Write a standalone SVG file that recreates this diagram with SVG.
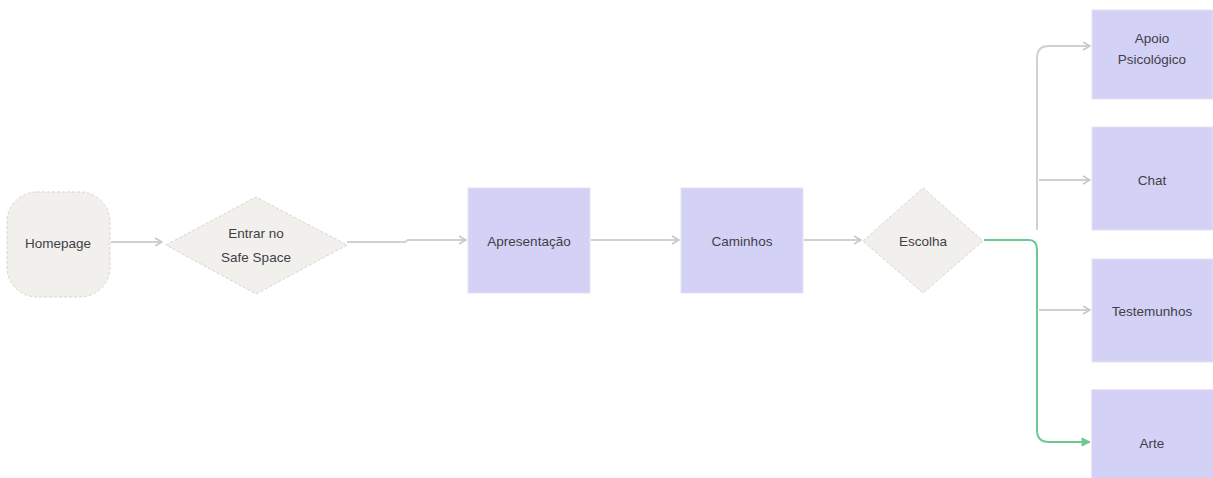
<svg xmlns="http://www.w3.org/2000/svg" width="1213" height="478" viewBox="0 0 1213 478">
<style>
.grey{fill:#f1f0ec;stroke:#d6d5d0;stroke-width:1;stroke-dasharray:3 2}
.box{fill:#d3d1f5;stroke:#e4e3f0;stroke-width:1}
.t{font-family:"Liberation Sans",Arial,sans-serif;font-size:13.5px;fill:#3f3f48;text-anchor:middle;dominant-baseline:central}
.c{fill:none;stroke:#d0d0d0;stroke-width:2}
.g{fill:none;stroke:#6cc992;stroke-width:2}
</style>
<defs>
<marker id="ah" viewBox="0 0 10 10" refX="9" refY="5" markerWidth="10" markerHeight="10" markerUnits="userSpaceOnUse" orient="auto"><path d="M2,1 L9,5 L2,9" fill="none" stroke="#c8c8c8" stroke-width="1.5"/></marker>
<marker id="ahg" viewBox="0 0 10 10" refX="9" refY="5" markerWidth="10" markerHeight="10" markerUnits="userSpaceOnUse" orient="auto"><path d="M1,1 L9,5 L1,9 Z" fill="#6cc992" stroke="#6cc992" stroke-width="1"/></marker>
</defs>
<rect width="1213" height="478" fill="#ffffff"/>
<g id="connectors">
<path class="c" d="M111,242 L162,242" marker-end="url(#ah)"/>
<path class="c" d="M347,242 L405,242 L408,240 L466,240" marker-end="url(#ah)"/>
<path class="c" d="M591,240 L679,240" marker-end="url(#ah)"/>
<path class="c" d="M804,240 L861,240" marker-end="url(#ah)"/>
<path class="c" d="M1037,230 L1037,58 Q1037,46 1049,46 L1090,46" marker-end="url(#ah)"/>
<path class="c" d="M1039,180 L1090,180" marker-end="url(#ah)"/>
<path class="c" d="M1039,310 L1090,310" marker-end="url(#ah)"/>
<path class="g" d="M984,240 L1029,240 Q1037,240 1037,250 L1037,430 Q1037,442 1049,442 L1090,442" marker-end="url(#ahg)"/>
</g>
<g id="homepage">
<rect class="grey" x="7" y="192" width="103" height="105" rx="30"/>
<text class="t" x="58" y="243">Homepage</text>
</g>
<g id="entrar">
<polygon class="grey" points="166,245 256,197 347,245 256,294"/>
<text class="t" x="256" y="233">Entrar no</text>
<text class="t" x="256" y="257">Safe Space</text>
</g>
<g id="apresentacao">
<rect class="box" x="468" y="188" width="122" height="105"/>
<text class="t" x="529" y="241">Apresentação</text>
</g>
<g id="caminhos">
<rect class="box" x="681" y="188" width="122" height="105"/>
<text class="t" x="742" y="241">Caminhos</text>
</g>
<g id="escolha">
<polygon class="grey" points="863,241 923,188 983,241 923,293"/>
<text class="t" x="923" y="241">Escolha</text>
</g>
<g id="apoio">
<rect class="box" x="1092" y="10" width="121" height="89"/>
<text class="t" x="1152" y="38">Apoio</text>
<text class="t" x="1152" y="59">Psicológico</text>
</g>
<g id="chat">
<rect class="box" x="1092" y="127" width="121" height="103"/>
<text class="t" x="1152" y="180">Chat</text>
</g>
<g id="testemunhos">
<rect class="box" x="1092" y="259" width="121" height="103"/>
<text class="t" x="1152" y="311">Testemunhos</text>
</g>
<g id="arte">
<rect class="box" x="1092" y="390" width="121" height="95" style="stroke:#e6c9ef"/>
<text class="t" x="1152" y="443">Arte</text>
</g>
</svg>
